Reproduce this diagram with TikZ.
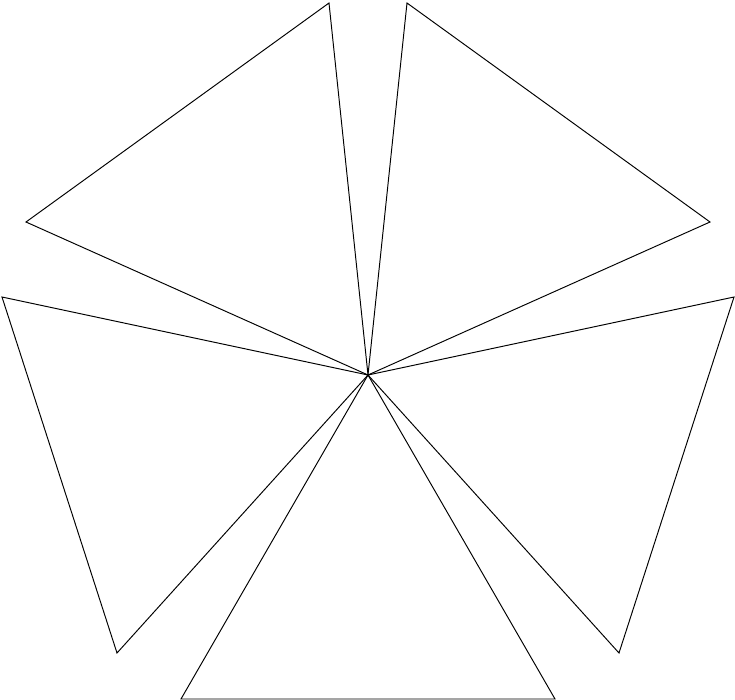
\documentclass[tikz,border=0pt]{standalone}
\usepackage{tikz}
\usetikzlibrary{calc}
\tikzstyle{coord} = [coordinate]
\tikzstyle{wedge} = [draw, line width=0.55pt, line join=miter]

\begin{document}
\begin{tikzpicture}[x=0.02cm,y=-0.02cm]
    \useasboundingbox (0,0) rectangle (735,700);
    \node [coord] (hub) at (368,375) {};
    \node [coord] (tlA) at (329,3) {};
    \node [coord] (tlB) at (26,222) {};
    \node [coord] (trA) at (407,3) {};
    \node [coord] (trB) at (710,222) {};
    \node [coord] (lA) at (2,297) {};
    \node [coord] (lB) at (117,653) {};
    \node [coord] (rA) at (734,297) {};
    \node [coord] (rB) at (619,653) {};
    \node [coord] (bA) at (181,699) {};
    \node [coord] (bB) at (555,699) {};

    \draw [wedge] (hub) -- (tlA) -- (tlB) -- cycle;
    \draw [wedge] (hub) -- (trA) -- (trB) -- cycle;
    \draw [wedge] (hub) -- (lA) -- (lB) -- cycle;
    \draw [wedge] (hub) -- (rA) -- (rB) -- cycle;
    \draw [wedge] (hub) -- (bA) -- (bB) -- cycle;
\end{tikzpicture}
\end{document}
